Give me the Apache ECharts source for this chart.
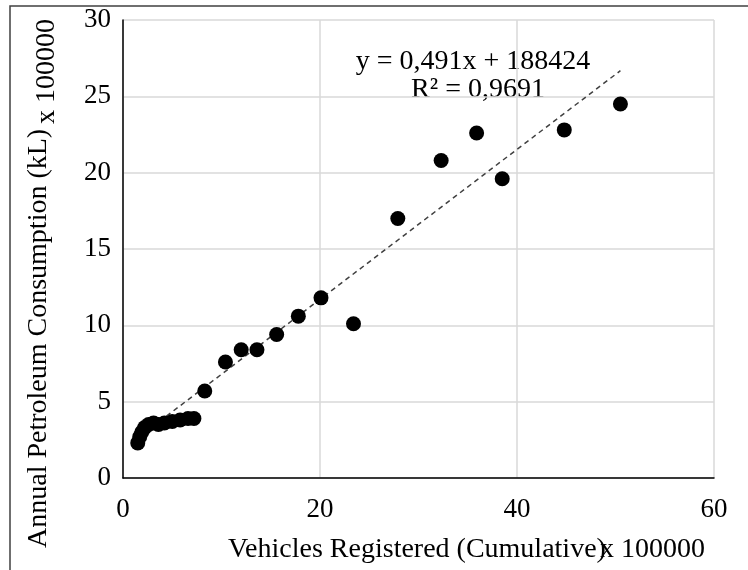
<!DOCTYPE html>
<html>
<head>
<meta charset="utf-8">
<script src="https://cdn.jsdelivr.net/npm/echarts@6/dist/echarts.min.js"></script>
<style>html,body{margin:0;padding:0;background:#fff}#c{width:748px;height:570px}</style>
</head>
<body>
<div id="c"></div>
<script>
// Vehicles registered (x 100000)
const vehicles = [1.5, 1.7, 1.9, 2.2, 2.6, 3.1, 3.6, 4.2, 5.0, 5.8, 6.6, 7.2, 8.3, 10.4, 12.0, 13.6, 15.6, 17.8, 20.1, 23.4, 27.9, 32.3, 35.9, 38.5, 44.8, 50.5];
// Annual petroleum consumption (x 100000 kL)
const consumption = [2.3, 2.7, 3.0, 3.3, 3.5, 3.6, 3.5, 3.6, 3.7, 3.8, 3.9, 3.9, 5.7, 7.6, 8.4, 8.4, 9.4, 10.6, 11.8, 10.1, 17.0, 20.8, 22.6, 19.6, 22.8, 24.5];
// Trendline endpoints (linear fit shown on chart)
const trendX = [1.5, 50.5];
const trendY = [2.62, 26.68];
const xTicks = [0, 20, 40, 60];
const yTicks = [0, 5, 10, 15, 20, 25, 30];
const eqText = 'y = 0,491x + 188424';
const r2Text = 'R² = 0,9691';
const xTitle = 'Vehicles Registered (Cumulative)';
const yTitle = 'Annual Petroleum Consumption (kL)';
const unitText = 'x 100000';

const font = 'Liberation Serif';
const fs = 27;
const ft = 28;
const f = ft + 'px "Liberation Serif"';
const chart = echarts.init(document.getElementById('c'));
chart.setOption({
  animation: false,
  backgroundColor: '#fff',
  grid: {left: 123, right: 34, top: 20, bottom: 92},
  xAxis: {
    type: 'value', min: xTicks[0], max: xTicks[xTicks.length-1], interval: 20,
    axisLine: {show: true, lineStyle: {color: '#000', width: 1.5}},
    axisTick: {show: false},
    axisLabel: {fontFamily: font, fontSize: fs, color: '#000', margin: 18},
    splitLine: {show: true, lineStyle: {color: '#d9d9d9', width: 1.5}}
  },
  yAxis: {
    type: 'value', min: yTicks[0], max: yTicks[yTicks.length-1], interval: 5,
    axisLine: {show: true, lineStyle: {color: '#000', width: 1.5}},
    axisTick: {show: false},
    axisLabel: {fontFamily: font, fontSize: fs, color: '#000', margin: 12},
    splitLine: {show: true, lineStyle: {color: '#d9d9d9', width: 1.5}}
  },
  series: [
    {
      type: 'line',
      data: trendX.map((x, i) => [x, trendY[i]]),
      symbol: 'none',
      lineStyle: {color: '#404040', width: 1.5, type: [5, 4]},
      z: 1
    },
    {
      type: 'scatter',
      data: vehicles.map((x, i) => [x, consumption[i]]),
      symbol: 'circle',
      symbolSize: 15,
      itemStyle: {color: '#000', opacity: 1},
      z: 2
    }
  ],
  graphic: [
    {type: 'rect', shape: {x: 10, y: 6, width: 800, height: 700}, style: {fill: 'none', stroke: '#404040', lineWidth: 1.5}, silent: true},
    {type: 'text', x: 473, y: 62, style: {text: eqText, font: f, fill: '#000', textAlign: 'center', textVerticalAlign: 'middle'}},
    {type: 'text', x: 478, y: 90, style: {text: r2Text, font: f, fill: '#000', textAlign: 'center', textVerticalAlign: 'middle'}},
    {type: 'text', x: 228, y: 550, style: {text: xTitle, font: f, fill: '#000', textAlign: 'left', textVerticalAlign: 'middle'}},
    {type: 'text', x: 600, y: 550, style: {text: unitText, font: f, fill: '#000', textAlign: 'left', textVerticalAlign: 'middle'}},
    {type: 'text', x: 39, y: 548, rotation: Math.PI/2, style: {text: yTitle, font: f, fill: '#000', textAlign: 'left', textVerticalAlign: 'middle'}},
    {type: 'text', x: 47, y: 124, rotation: Math.PI/2, style: {text: unitText, font: f, fill: '#000', textAlign: 'left', textVerticalAlign: 'middle'}}
  ]
});
</script>
</body>
</html>
